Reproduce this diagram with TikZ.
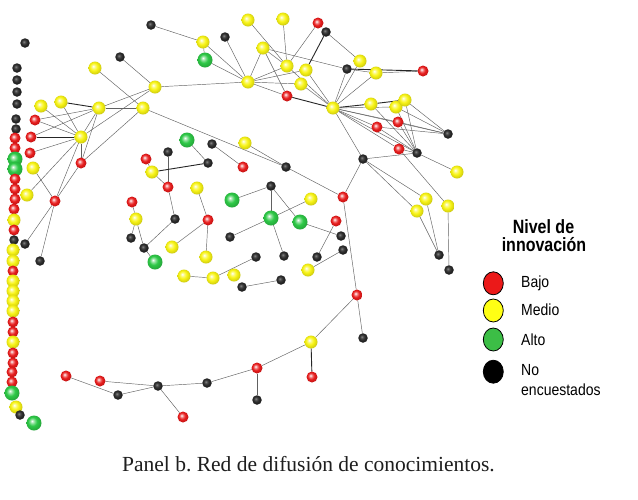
\documentclass[tikz,border=0pt]{standalone}
\usepackage{fontspec}
\usepackage{graphicx}
\setmainfont{Liberation Serif}
\newfontfamily\lsans{Liberation Sans}
\usetikzlibrary{backgrounds,shapes.geometric}
\definecolor{nred}{RGB}{232,28,28}
\definecolor{nyel}{RGB}{248,244,20}
\definecolor{ngrn}{RGB}{45,200,70}
\definecolor{nblk}{RGB}{45,45,45}
\definecolor{lred}{RGB}{235,25,25}
\definecolor{lyel}{RGB}{255,255,20}
\definecolor{lgrn}{RGB}{60,190,70}
\definecolor{captxt}{RGB}{30,30,30}
\pgfdeclareradialshading{rshade}{\pgfpoint{-7bp}{7bp}}{color(0bp)=(white); color(7bp)=(nred!55!white); color(15bp)=(nred); color(26bp)=(nred!85!black); color(33bp)=(nred!60!black); color(50bp)=(nred!60!black)}
\pgfdeclareradialshading{yshade}{\pgfpoint{-7bp}{7bp}}{color(0bp)=(white); color(7bp)=(nyel!55!white); color(15bp)=(nyel); color(26bp)=(nyel!85!black); color(33bp)=(nyel!62!black); color(50bp)=(nyel!62!black)}
\pgfdeclareradialshading{gshade}{\pgfpoint{-7bp}{7bp}}{color(0bp)=(white); color(7bp)=(ngrn!55!white); color(15bp)=(ngrn); color(26bp)=(ngrn!85!black); color(33bp)=(ngrn!60!black); color(50bp)=(ngrn!60!black)}
\pgfdeclareradialshading{kshade}{\pgfpoint{-7bp}{7bp}}{color(0bp)=(black!45); color(7bp)=(black!70); color(15bp)=(nblk); color(26bp)=(black!90); color(50bp)=(black)}
\begin{document}
\frenchspacing
\begin{tikzpicture}[x=1pt,y=-1pt,
  nd/.style={circle,inner sep=0pt,outer sep=0pt,shade},
  rb/.style={nd,minimum size=11pt,shading=rshade},
  yb/.style={nd,minimum size=13pt,shading=yshade},
  gb/.style={nd,minimum size=15pt,shading=gshade},
  kb/.style={nd,minimum size=9.5pt,shading=kshade},
  lk/.style={draw=black!62,line width=0.45pt},
  tk/.style={draw=black!85,line width=0.9pt},
  legball/.style={ellipse,minimum width=20pt,minimum height=23pt,inner sep=0pt,draw=black,line width=0.8pt},
  legtxt/.style={anchor=base west,inner sep=0pt,font=\lsans\fontsize{14}{16}\selectfont},
  legtitle/.style={anchor=base,inner sep=0pt,font=\lsans\bfseries\fontsize{16}{18}\selectfont}
]
\useasboundingbox (0,0) rectangle (638,499);
% ---------- left column ----------
\node[kb] (c0) at (25,43) {};
\node[kb] (c1) at (17,68) {};
\node[kb] (c2) at (17,80) {};
\node[kb] (c3) at (17,92) {};
\node[kb] (c4) at (17,104) {};
\node[kb] (c5) at (16,119) {};
\node[kb] (c6) at (16,129) {};
\node[rb] (c7) at (15,138) {};
\node[rb] (c8) at (15,148) {};
\node[gb] (c9) at (15,159) {};
\node[gb] (c10) at (15,169) {};
\node[rb] (c11) at (15,179) {};
\node[rb] (c12) at (15,189) {};
\node[rb] (c13) at (15,199) {};
\node[rb] (c14) at (14,209) {};
\node[yb] (c15) at (14,220) {};
\node[rb] (c16) at (14,230) {};
\node[kb] (c17) at (14,240) {};
\node[yb] (c18) at (13,250) {};
\node[yb] (c19) at (13,261) {};
\node[rb] (c20) at (13,271) {};
\node[yb] (c21) at (13,281) {};
\node[yb] (c22) at (13,291) {};
\node[yb] (c23) at (13,301) {};
\node[yb] (c24) at (13,311) {};
\node[rb] (c25) at (13,322) {};
\node[rb] (c26) at (13,332) {};
\node[yb] (c27) at (13,342) {};
\node[rb] (c28) at (13,353) {};
\node[rb] (c29) at (13,363) {};
\node[rb] (c30) at (12,372) {};
\node[rb] (c31) at (12,382) {};
\node[gb] (c32) at (12,393) {};
\node[yb] (c33) at (16,407) {};
\node[kb] (c34) at (20,415) {};
\node[gb] (c35) at (34,423) {};
% ---------- top-left cluster ----------
\node[yb] (a1) at (41,106) {};
\node[yb] (a2) at (61,102) {};
\node[yb] (a3) at (99,108) {};
\node[yb] (a4) at (95,68) {};
\node[rb] (a5) at (35,120) {};
\node[rb] (a6) at (31,137) {};
\node[yb] (H1) at (81,137) {};
\node[rb] (a7) at (30,153) {};
\node[yb] (a8) at (33,168) {};
\node[rb] (a9) at (81,163) {};
\node[yb] (a10) at (27,195) {};
\node[rb] (a11) at (55,201) {};
\node[kb] (a12) at (25,244) {};
\node[kb] (a13) at (40,261) {};
\node[kb] (a14) at (120,57) {};
\node[yb] (a15) at (155,87) {};
\node[yb] (a16) at (143,108) {};
% ---------- top cluster ----------
\node[kb] (b1) at (151,25) {};
\node[yb] (b2) at (203,42) {};
\node[gb] (b3) at (205,60) {};
\node[kb] (b4) at (225,37) {};
\node[yb] (b5) at (248,20) {};
\node[yb] (b6) at (283,19) {};
\node[rb] (b7) at (318,23) {};
\node[kb] (b8) at (326,32) {};
\node[yb] (b9) at (263,48) {};
\node[yb] (b10) at (287,66) {};
\node[yb] (b11) at (306,70) {};
\node[yb] (b12) at (301,84) {};
\node[yb] (H2) at (248,82) {};
\node[rb] (b13) at (287,96) {};
\node[kb] (b14) at (347,69) {};
\node[yb] (b15) at (360,61) {};
\node[yb] (b16) at (376,73) {};
\node[rb] (b17) at (423,71) {};
\node[yb] (H3) at (333,108) {};
\node[yb] (b18) at (371,104) {};
\node[yb] (b19) at (396,107) {};
\node[yb] (b20) at (405,100) {};
\node[rb] (b21) at (398,122) {};
\node[rb] (b22) at (377,127) {};
\node[kb] (b23) at (448,134) {};
\node[rb] (b24) at (399,149) {};
\node[kb] (b25) at (417,153) {};
\node[kb] (b26) at (363,159) {};
\node[yb] (b27) at (457,172) {};
\node[yb] (b28) at (426,199) {};
\node[yb] (b29) at (417,211) {};
\node[yb] (b30) at (448,206) {};
\node[kb] (b31) at (439,255) {};
\node[kb] (b32) at (449,270) {};
% ---------- middle ----------
\node[gb] (m1) at (187,140) {};
\node[kb] (m2) at (212,144) {};
\node[yb] (m3) at (245,143) {};
\node[kb] (m4) at (168,152) {};
\node[rb] (m5) at (146,159) {};
\node[kb] (m6) at (208,163) {};
\node[rb] (m7) at (243,167) {};
\node[kb] (m8) at (286,167) {};
\node[yb] (m9) at (152,172) {};
\node[rb] (m10) at (168,187) {};
\node[yb] (m11) at (197,188) {};
\node[kb] (m12) at (271,186) {};
\node[gb] (m13) at (232,200) {};
\node[yb] (m14) at (311,199) {};
\node[rb] (R1) at (343,197) {};
\node[rb] (m15) at (132,202) {};
\node[gb] (m16) at (271,218) {};
\node[gb] (m17) at (300,222) {};
\node[rb] (m18) at (336,221) {};
\node[yb] (m19) at (136,219) {};
\node[kb] (m20) at (175,219) {};
\node[rb] (m21) at (208,220) {};
\node[kb] (m22) at (230,237) {};
\node[kb] (m23) at (341,236) {};
\node[kb] (m24) at (131,238) {};
\node[kb] (m25) at (144,248) {};
\node[yb] (m26) at (172,247) {};
\node[kb] (m27) at (343,250) {};
\node[gb] (m28) at (155,262) {};
\node[yb] (m29) at (206,257) {};
\node[kb] (m30) at (256,257) {};
\node[kb] (m31) at (284,256) {};
\node[kb] (m32) at (317,257) {};
\node[yb] (m33) at (308,270) {};
\node[yb] (m34) at (184,276) {};
\node[yb] (m35) at (213,278) {};
\node[yb] (m36) at (234,275) {};
\node[kb] (m37) at (281,280) {};
\node[kb] (m38) at (242,287) {};
% ---------- bottom chain ----------
\node[rb] (d1) at (357,295) {};
\node[kb] (d2) at (363,338) {};
\node[yb] (d3) at (311,342) {};
\node[rb] (d4) at (312,377) {};
\node[rb] (d5) at (257,368) {};
\node[kb] (d6) at (257,400) {};
\node[kb] (d7) at (207,383) {};
\node[kb] (d8) at (158,386) {};
\node[rb] (d9) at (100,381) {};
\node[kb] (d10) at (118,395) {};
\node[rb] (d11) at (66,376) {};
\node[rb] (d12) at (183,417) {};
% ---------- edges ----------
\begin{pgfonlayer}{background}
\fill[white] (0,0) rectangle (638,499);
\foreach \p/\q in {b1/b2,b2/b3,b2/H2,b3/H2,b4/H2,a14/a15,a4/a16,a15/H2,a15/a3,a16/a3,a16/m8,m8/R1,
  H1/a1,H1/a2,a5/a3,a5/H1,a6/a3,a7/H1,a10/H1,H1/a11,a9/a11,a8/a11,a11/a12,a11/a13,H1/a3,H1/a15,
  a9/H1,a9/a3,a9/a16,
  H2/b9,H2/b10,H2/b11,H2/b12,H2/b13,b5/b10,b6/b10,b7/b10,b8/b15,b9/b13,b9/b14,b9/b10,
  b14/H3,H3/b15,H3/b16,H3/b11,H3/b12,H3/b10,b16/b17,b14/b16,
  H3/b19,H3/b21,H3/b22,H3/b23,H3/b24,H3/b25,H3/b26,
  b18/b25,b19/b25,b20/b25,b20/b23,b19/b23,b22/b23,b21/b25,b24/b25,b22/b25,b21/b23,
  b25/b27,b26/b25,b26/R1,b26/b28,b26/b29,b24/b30,b28/b31,b29/b31,b30/b32,
  m1/m6,m2/m7,m3/m8,m4/m10,m9/m10,m5/m9,m10/m20,m20/m25,m19/m25,m15/m19,m19/m24,m25/m28,
  m11/m21,m21/m26,m21/m29,m13/m12,m12/m16,m12/m17,m16/m14,m16/m22,m16/m31,m17/m23,m18/m32,
  m27/m33,m34/m35,m35/m30,m38/m37,
  R1/d1,d1/d2,d1/d3,d5/d6,d5/d7,d7/d8,d8/d9,d8/d10,d10/d11,d8/d12,d3/d5}
  \draw[lk] (\p) -- (\q);
\foreach \p/\q in {a6/H1,a2/a3,b13/H3,H3/b18,b18/b20,b8/b11,m9/m6,d3/d4,b14/b17}
  \draw[tk] (\p) -- (\q);
\end{pgfonlayer}
% ---------- legend ----------
\node[legtitle] (lt1) at (543.5,233.3) {\scalebox{1}[1.2]{Nivel de}};
\node[legtitle] (lt2) at (544,251.5) {\scalebox{1}[1.2]{innovación}};
\node[legball,fill=lred] (lg1) at (493.3,283.3) {};
\node[legball,fill=lyel] (lg2) at (493.3,310.5) {};
\node[legball,fill=lgrn] (lg3) at (493.3,339.5) {};
\node[legball,fill=black] (lg4) at (493.3,371.7) {};
\node[legtxt] (lb1) at (521,287.3) {\scalebox{1}[1.15]{Bajo}};
\node[legtxt] (lb2) at (521,315.7) {\scalebox{1}[1.15]{Medio}};
\node[legtxt] (lb3) at (521,345) {\scalebox{1}[1.15]{Alto}};
\node[legtxt] (lb4) at (521,375.7) {\scalebox{1}[1.15]{No}};
\node[legtxt] (lb5) at (521,395) {\scalebox{1}[1.15]{encuestados}};
% ---------- caption ----------
\node[anchor=base,inner sep=0pt,text=captxt,font=\fontsize{21.5}{24}\selectfont] (cap) at (308.5,471) {Panel b. Red de difusión de conocimientos.};
\end{tikzpicture}
\end{document}
